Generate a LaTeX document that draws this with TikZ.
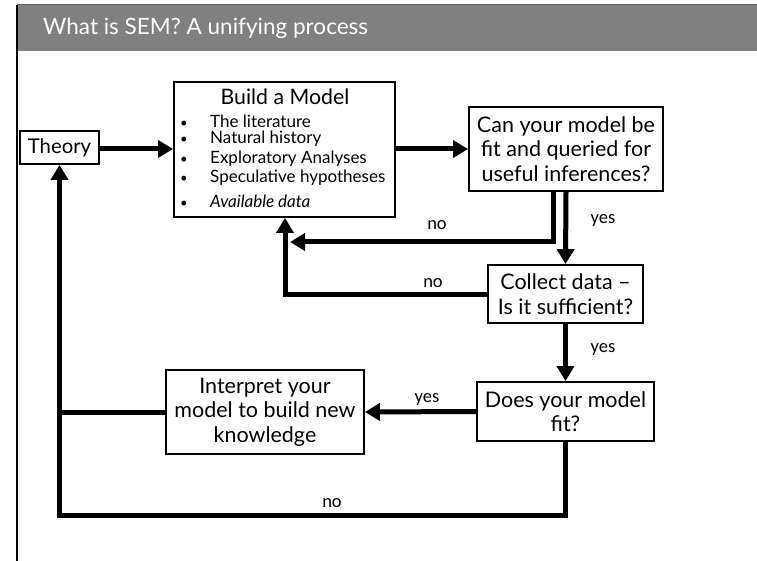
\documentclass[tikz,border=0pt]{standalone}
\usepackage{fontspec}
\setmainfont{Lato}
\newfontfamily\labelfont{Carlito}
\usetikzlibrary{arrows.meta}
\definecolor{headgray}{RGB}{128,128,128}
\definecolor{headedge}{RGB}{96,96,96}
\begin{document}
\begin{tikzpicture}[x=1pt,y=-1pt,
  box/.style={draw=black, line width=1.9pt, fill=white, rectangle, inner sep=0pt, align=center,
              font=\fontsize{21.5}{24.5}\selectfont},
  flow/.style={line width=5pt, -{Triangle[length=15pt,width=17pt]}},
  plain/.style={line width=5pt},
  lbl/.style={font=\labelfont\fontsize{18.5}{20}\selectfont, inner sep=0pt},
  item/.style={anchor=west, inner sep=0pt, font=\fontsize{17}{19}\selectfont}]
\useasboundingbox (0,0) rectangle (757,561);
% page frame and title bar
\fill[headgray] (17,5) rectangle (757,51);
\draw[headedge, line width=1pt] (17,5) -- (757,5);
\draw[black, line width=1.8pt] (17,5) -- (17,561);
\node[anchor=west, text=white, inner sep=0pt, font=\fontsize{22.5}{28}\selectfont] (title) at (43,28)
  {What is SEM? A unifying process};

% boxes
\node[box, minimum width=79pt, minimum height=33pt, font=\fontsize{20.3}{24}\selectfont] (theory) at (59.5,147.5) {Theory};
\node[box, minimum width=221pt, minimum height=135pt] (build) at (284.5,149.5) {};
\node[box, minimum width=194pt, minimum height=84pt] (can) at (566,149)
  {Can your model be\\fit and queried for\\useful inferences?};
\node[box, minimum width=155pt, minimum height=58pt] (collect) at (565.5,294)
  {Collect data --\\Is it sufficient?};
\node[box, minimum width=177pt, minimum height=59pt] (fit) at (565.5,411.5)
  {Does your model\\fit?};
\node[box, minimum width=198pt, minimum height=84pt] (interp) at (265,412)
  {Interpret your\\model to build new\\knowledge};

% contents of the model box
\node[inner sep=0pt, font=\fontsize{21.3}{24}\selectfont] (btitle) at (285,97) {Build a Model};
\foreach \y/\t [count=\i] in {121/The literature, 139/Natural history, 159/Exploratory Analyses,
    178/Speculative hypotheses, 201/\textit{Available data}} {
  \node[item] (it\i) at (210,\y) {\t};
  \node[anchor=base, inner sep=0pt, font=\fontsize{13}{14}\selectfont] (bul\i) at (184,0 |- it\i.base) {•};
}

% helper points on the connectors
\coordinate (canno) at ([xshift=-13pt]can.south);
\coordinate (noturn) at (canno |- 0,242);
\coordinate (noend) at (290,242);
\coordinate (colturn) at (285,294);
\coordinate (fitturn) at (fit.south |- 0,515);
\coordinate (leftturn) at (theory.south |- 0,515);
\coordinate (leftjoin) at (theory.south |- interp.west);

% connectors
\draw[flow] (theory.east |- 0,149) -- (build.west |- 0,149);
\draw[flow] (build.east |- 0,149) -- (can.west |- 0,149);
\draw[plain] (canno) -- (noturn);
\draw[flow] ([xshift=2.5pt]noturn) -- (noend);
\draw[flow] (can.south) -- (collect.north);
\draw[flow] (collect.west) -- (colturn) -- (colturn |- build.south);
\draw[flow] (collect.south) -- (fit.north);
\draw[flow] (fit.west) -- (interp.east);
\draw[plain] (interp.west) -- ([xshift=-2.5pt]leftjoin);
\draw[flow] (fit.south) -- (fitturn) -- (leftturn) -- (theory.south);

% branch labels
\node[lbl] (l1) at (437,225) {no};
\node[lbl] (l2) at (603,221) {yes};
\node[lbl] (l3) at (433,283) {no};
\node[lbl] (l4) at (603,350) {yes};
\node[lbl] (l5) at (427,400) {yes};
\node[lbl] (l6) at (332,503) {no};
\end{tikzpicture}
\end{document}
